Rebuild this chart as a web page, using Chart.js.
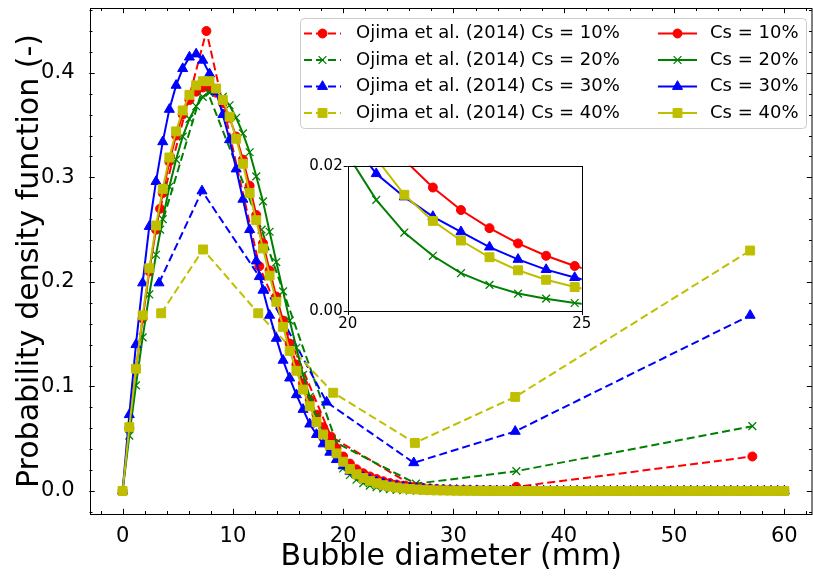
<!DOCTYPE html>
<html>
<head>
<meta charset="utf-8">
<script src="https://cdn.jsdelivr.net/npm/chart.js@4.4.0/dist/chart.umd.min.js"></script>
<style>
  html, body { margin: 0; padding: 0; background: #fff; }
  #wrap { position: relative; width: 813px; height: 579px; }
  #mainChart { position: absolute; left: 0; top: 0; }
  #insetChart { position: absolute; left: 300px; top: 150px; }
</style>
</head>
<body>
<div id="wrap">
  <canvas id="mainChart" width="813" height="579"></canvas>
  <canvas id="insetChart" width="300" height="190"></canvas>
</div>
<script>
// simulation grid (mm)
const simX = [
  0, 0.61, 1.21, 1.82, 2.42, 3.03, 3.64, 4.24, 4.85, 5.45,
  6.06, 6.67, 7.27, 7.88, 8.48, 9.09, 9.70, 10.30, 10.91, 11.52,
  12.12, 12.73, 13.33, 13.94, 14.55, 15.15, 15.76, 16.36, 16.97, 17.58,
  18.18, 18.79, 19.39, 20.00, 20.61, 21.21, 21.82, 22.42, 23.03, 23.64,
  24.24, 24.85, 25.45, 26.06, 26.67, 27.27, 27.88, 28.48, 29.09, 29.70,
  30.30, 30.91, 31.52, 32.12, 32.73, 33.33, 33.94, 34.55, 35.15, 35.76,
  36.36, 36.97, 37.58, 38.18, 38.79, 39.39, 40.00, 40.61, 41.21, 41.82,
  42.42, 43.03, 43.64, 44.24, 44.85, 45.45, 46.06, 46.67, 47.27, 47.88,
  48.48, 49.09, 49.70, 50.30, 50.91, 51.52, 52.12, 52.73, 53.33, 53.94,
  54.55, 55.15, 55.76, 56.36, 56.97, 57.58, 58.18, 58.79, 59.39, 60.00
];

const sim10 = [
  0, 0.060, 0.117, 0.165, 0.210, 0.250, 0.285, 0.315, 0.340, 0.360,
  0.374, 0.382, 0.386, 0.386, 0.381, 0.371, 0.357, 0.339, 0.317, 0.292,
  0.264, 0.237, 0.211, 0.186, 0.163, 0.141, 0.121, 0.103, 0.087, 0.073,
  0.061, 0.050, 0.041, 0.033, 0.0262, 0.0208, 0.0170, 0.0139, 0.0114, 0.0093,
  0.0076, 0.0062, 0.0051, 0.0042, 0.0034, 0.0028, 0.0023, 0.0019, 0.0016, 0.0013,
  0.0011, 0.0009, 0.0007, 0.0006, 0.0005, 0.0004, 0.0003, 0.0003, 0.0002, 0.0002,
  0.0002, 0.0001, 0.0001, 0.0001, 0.0001, 0, 0, 0, 0, 0,
  0, 0, 0, 0, 0, 0, 0, 0, 0, 0,
  0, 0, 0, 0, 0, 0, 0, 0, 0, 0,
  0, 0, 0, 0, 0, 0, 0, 0, 0, 0
];

const sim20 = [
  0, 0.053, 0.101, 0.147, 0.188, 0.226, 0.260, 0.291, 0.317, 0.339,
  0.356, 0.368, 0.377, 0.381, 0.381, 0.377, 0.369, 0.357, 0.342, 0.324,
  0.301, 0.277, 0.248, 0.219, 0.191, 0.163, 0.137, 0.111, 0.090, 0.071,
  0.055, 0.042, 0.031, 0.0215, 0.0153, 0.0108, 0.0076, 0.0052, 0.0036, 0.0024,
  0.0017, 0.0011, 0.0007, 0.0005, 0.0003, 0.0002, 0.0001, 0.0001, 0, 0,
  0, 0, 0, 0, 0, 0, 0, 0, 0, 0,
  0, 0, 0, 0, 0, 0, 0, 0, 0, 0,
  0, 0, 0, 0, 0, 0, 0, 0, 0, 0,
  0, 0, 0, 0, 0, 0, 0, 0, 0, 0,
  0, 0, 0, 0, 0, 0, 0, 0, 0, 0
];

const sim30 = [
  0, 0.073, 0.140, 0.199, 0.253, 0.296, 0.334, 0.365, 0.388, 0.404,
  0.415, 0.418, 0.412, 0.399, 0.382, 0.360, 0.336, 0.308, 0.279, 0.250,
  0.220, 0.192, 0.168, 0.146, 0.125, 0.108, 0.092, 0.078, 0.064, 0.054,
  0.045, 0.037, 0.030, 0.024, 0.0189, 0.0157, 0.0130, 0.0109, 0.0088, 0.0071,
  0.0057, 0.0046, 0.0037, 0.0030, 0.0024, 0.0019, 0.0015, 0.0012, 0.0010, 0.0008,
  0.0006, 0.0005, 0.0004, 0.0003, 0.0002, 0.0002, 0.0001, 0.0001, 0.0001, 0,
  0, 0, 0, 0, 0, 0, 0, 0, 0, 0,
  0, 0, 0, 0, 0, 0, 0, 0, 0, 0,
  0, 0, 0, 0, 0, 0, 0, 0, 0, 0,
  0, 0, 0, 0, 0, 0, 0, 0, 0, 0
];

const sim40 = [
  0, 0.061, 0.117, 0.168, 0.213, 0.254, 0.289, 0.319, 0.344, 0.364,
  0.379, 0.388, 0.392, 0.392, 0.385, 0.374, 0.358, 0.337, 0.313, 0.285,
  0.259, 0.232, 0.206, 0.181, 0.157, 0.134, 0.115, 0.097, 0.081, 0.066,
  0.054, 0.044, 0.036, 0.028, 0.0210, 0.0160, 0.0124, 0.0097, 0.0074, 0.0056,
  0.0043, 0.0033, 0.0025, 0.0019, 0.0015, 0.0011, 0.0008, 0.0006, 0.0005, 0.0004,
  0.0003, 0.0002, 0.0002, 0.0001, 0.0001, 0, 0, 0, 0, 0,
  0, 0, 0, 0, 0, 0, 0, 0, 0, 0,
  0, 0, 0, 0, 0, 0, 0, 0, 0, 0,
  0, 0, 0, 0, 0, 0, 0, 0, 0, 0,
  0, 0, 0, 0, 0, 0, 0, 0, 0, 0
];

// Ojima et al. (2014) measured bins
const ojX10 = [3.4, 7.6, 12.4, 18.9, 26.5, 35.7, 57.1];
const oj10 = [0.270, 0.440, 0.215, 0.052, 0.004, 0.004, 0.033];
const ojX20 = [3.4, 7.4, 12.6, 19.4, 26.6, 35.7, 57.1];
const oj20 = [0.250, 0.390, 0.250, 0.046, 0.007, 0.019, 0.062];
const ojX30 = [3.3, 7.2, 12.4, 18.5, 26.4, 35.6, 56.9];
const oj30 = [0.199, 0.287, 0.205, 0.085, 0.027, 0.057, 0.168];
const ojX40 = [3.5, 7.3, 12.3, 19.1, 26.5, 35.6, 56.9];
const oj40 = [0.170, 0.231, 0.170, 0.094, 0.046, 0.090, 0.230];

const ojLabels = ['Ojima et al. (2014) Cs = 10%', 'Ojima et al. (2014) Cs = 20%',
                  'Ojima et al. (2014) Cs = 30%', 'Ojima et al. (2014) Cs = 40%'];
const simLabels = ['Cs = 10%', 'Cs = 20%', 'Cs = 30%', 'Cs = 40%'];

const xTicks = [0, 10, 20, 30, 40, 50, 60];
const yTicks = [0, 0.1, 0.2, 0.3, 0.4];
const xMinor = [-2, 0, 2, 4, 6, 8, 10, 12, 14, 16, 18, 20, 22, 24, 26, 28, 30, 32,
                34, 36, 38, 40, 42, 44, 46, 48, 50, 52, 54, 56, 58, 60, 62];
const yMinor = [-0.02, 0, 0.02, 0.04, 0.06, 0.08, 0.10, 0.12, 0.14, 0.16, 0.18, 0.20,
                0.22, 0.24, 0.26, 0.28, 0.30, 0.32, 0.34, 0.36, 0.38, 0.40, 0.42, 0.44, 0.46];
const insetXTicks = [20, 25];
const insetYTicks = [0, 0.02];

const FONT = '"DejaVu Sans", sans-serif';
const colors = ['#ff0000', '#008000', '#0000ff', '#bfbf00'];
const markers = ['circle', 'crossRot', 'triangle', 'rect'];
const radii = { circle: 4.5, crossRot: 5.5, triangle: 5.8, rect: 6.3 };
const DASH = [8, 4];
const PLOT_RIGHT = 813;

function makeSet(label, xs, ys, k, dashed) {
  const m = markers[k];
  return {
    label: label,
    data: xs.map((x, i) => ({ x: x, y: ys[i] })),
    borderColor: colors[k],
    backgroundColor: colors[k],
    pointBackgroundColor: colors[k],
    pointBorderColor: colors[k],
    borderWidth: 2,
    borderDash: dashed ? DASH : [],
    pointStyle: m,
    pointRadius: radii[m],
    pointHoverRadius: radii[m],
    pointBorderWidth: m === 'crossRot' ? 1.3 : 1,
    tension: 0,
    fill: false
  };
}

function drawMarker(ctx, style, x, y, r, color, lw) {
  ctx.save();
  ctx.setLineDash([]);
  ctx.fillStyle = color;
  ctx.strokeStyle = color;
  ctx.lineWidth = lw;
  ctx.beginPath();
  if (style === 'circle') {
    ctx.arc(x, y, r, 0, Math.PI * 2);
  } else if (style === 'rect') {
    const h = r * Math.SQRT1_2;
    ctx.rect(x - h, y - h, 2 * h, 2 * h);
  } else if (style === 'triangle') {
    for (let k = 0; k < 3; k++) {
      const a = k * 2 * Math.PI / 3;
      const px = x + Math.sin(a) * r, py = y - Math.cos(a) * r;
      if (k === 0) ctx.moveTo(px, py); else ctx.lineTo(px, py);
    }
    ctx.closePath();
  } else {
    const h = r * Math.SQRT1_2;
    ctx.moveTo(x - h, y - h); ctx.lineTo(x + h, y + h);
    ctx.moveTo(x - h, y + h); ctx.lineTo(x + h, y - h);
    ctx.stroke();
    ctx.restore();
    return;
  }
  ctx.fill();
  ctx.stroke();
  ctx.restore();
}

// stretch the plot area to the right edge of the canvas (as in the cropped figure)
const stretchRight = {
  id: 'stretchRight',
  afterLayout(chart) {
    const x = chart.scales.x;
    chart.chartArea.right = PLOT_RIGHT;
    chart.chartArea.width = PLOT_RIGHT - chart.chartArea.left;
    x.right = PLOT_RIGHT;
    x.width = x.right - x.left;
    x.configure();
  }
};

// inward ticks on all four sides + frame
const frameTicks = {
  id: 'frameTicks',
  afterDatasetsDraw(chart) {
    const { ctx, chartArea: a, scales: { x, y } } = chart;
    ctx.save();
    ctx.strokeStyle = '#000';
    ctx.lineWidth = 1;
    ctx.setLineDash([]);
    ctx.beginPath();
    const vx = (vals, len) => vals.forEach(v => {
      const p = Math.round(x.getPixelForValue(v)) + 0.5;
      ctx.moveTo(p, a.bottom); ctx.lineTo(p, a.bottom - len);
      ctx.moveTo(p, a.top); ctx.lineTo(p, a.top + len);
    });
    const vy = (vals, len) => vals.forEach(v => {
      const p = Math.round(y.getPixelForValue(v)) + 0.5;
      ctx.moveTo(a.left, p); ctx.lineTo(a.left + len, p);
      ctx.moveTo(a.right - 1, p); ctx.lineTo(a.right - 1 - len, p);
    });
    vx(xMinor, 3); vx(xTicks, 5.2);
    vy(yMinor, 3); vy(yTicks, 5.2);
    ctx.stroke();
    ctx.strokeRect(Math.round(a.left) + 0.5, Math.round(a.top) + 0.5,
                   Math.round(a.right) - Math.round(a.left) - 1.5, Math.round(a.bottom - a.top));
    ctx.restore();
  }
};

// two-column legend box in the upper right
const legendBox = {
  id: 'legendBox',
  afterDraw(chart) {
    const ctx = chart.ctx;
    const sets = chart.data.datasets;
    const bx = 300.5, by = 18.5, bw = 506, bh = 110, r = 4;
    ctx.save();
    ctx.beginPath();
    ctx.moveTo(bx + r, by);
    ctx.arcTo(bx + bw, by, bx + bw, by + bh, r);
    ctx.arcTo(bx + bw, by + bh, bx, by + bh, r);
    ctx.arcTo(bx, by + bh, bx, by, r);
    ctx.arcTo(bx, by, bx + bw, by, r);
    ctx.closePath();
    ctx.fillStyle = 'rgba(255,255,255,0.8)';
    ctx.fill();
    ctx.strokeStyle = '#cccccc';
    ctx.lineWidth = 1;
    ctx.stroke();

    const rowY = [33.5, 60, 86.5, 113];
    const cols = [{ x0: 304, x1: 341, tx: 356 }, { x0: 658, x1: 697, tx: 710 }];
    ctx.font = '18px ' + FONT;
    ctx.textBaseline = 'middle';
    ctx.textAlign = 'left';
    sets.forEach((ds, i) => {
      const c = cols[Math.floor(i / 4)];
      const yy = rowY[i % 4];
      ctx.save();
      ctx.strokeStyle = ds.borderColor;
      ctx.lineWidth = ds.borderWidth;
      ctx.setLineDash(ds.borderDash);
      ctx.beginPath();
      ctx.moveTo(c.x0, yy); ctx.lineTo(c.x1, yy);
      ctx.stroke();
      ctx.restore();
      drawMarker(ctx, ds.pointStyle, (c.x0 + c.x1) / 2, yy, ds.pointRadius, ds.borderColor, ds.pointBorderWidth);
      ctx.fillStyle = '#000';
      ctx.fillText(ds.label, c.tx, yy);
    });
    ctx.restore();
  }
};

const mainSets = [
  makeSet(ojLabels[0], ojX10, oj10, 0, true),
  makeSet(ojLabels[1], ojX20, oj20, 1, true),
  makeSet(ojLabels[2], ojX30, oj30, 2, true),
  makeSet(ojLabels[3], ojX40, oj40, 3, true),
  makeSet(simLabels[0], simX, sim10, 0, false),
  makeSet(simLabels[1], simX, sim20, 1, false),
  makeSet(simLabels[2], simX, sim30, 2, false),
  makeSet(simLabels[3], simX, sim40, 3, false)
];
// matplotlib draws later series on top
mainSets.forEach((ds, i) => { ds.order = mainSets.length - i; });

new Chart(document.getElementById('mainChart').getContext('2d'), {
  type: 'line',
  data: { datasets: mainSets },
  options: {
    responsive: false,
    animation: false,
    devicePixelRatio: 1,
    events: [],
    layout: { padding: { top: 8, right: 0, bottom: 0, left: 0 } },
    plugins: { legend: { display: false }, tooltip: { enabled: false } },
    scales: {
      x: {
        type: 'linear',
        min: -3,
        max: 62.6,
        grid: { display: false },
        border: { display: false },
        afterBuildTicks: s => { s.ticks = xTicks.map(v => ({ value: v })); },
        afterFit: s => { s.height = 65; s.paddingLeft = 0; s.paddingRight = 0; },
        ticks: {
          font: { family: FONT, size: 21 },
          color: '#000',
          padding: 2,
          maxRotation: 0,
          autoSkip: false,
          callback: v => String(v)
        },
        title: {
          display: true,
          text: 'Bubble diameter (mm)',
          color: '#000',
          font: { family: FONT, size: 30 },
          padding: { top: 0, bottom: 4 }
        }
      },
      y: {
        type: 'linear',
        min: -0.022,
        max: 0.462,
        grid: { display: false },
        border: { display: false },
        afterBuildTicks: s => { s.ticks = yTicks.map(v => ({ value: v })); },
        afterFit: s => { s.width = 89.5; s.paddingTop = 0; s.paddingBottom = 0; },
        ticks: {
          font: { family: FONT, size: 21 },
          color: '#000',
          padding: 7,
          autoSkip: false,
          callback: v => v.toFixed(1)
        },
        title: {
          display: true,
          text: 'Probability density function (-)',
          color: '#000',
          font: { family: FONT, size: 30 },
          padding: { top: 12, bottom: 0 }
        }
      }
    }
  },
  plugins: [stretchRight, frameTicks, legendBox]
});

// inset: zoom on the simulated tails
const insetFrame = {
  id: 'insetFrame',
  beforeDatasetsDraw(chart) {
    const { ctx, chartArea: a } = chart;
    ctx.save();
    ctx.fillStyle = '#fff';
    ctx.fillRect(a.left, a.top, a.right - a.left, a.bottom - a.top);
    ctx.restore();
  },
  afterDraw(chart) {
    const { ctx, chartArea: a, scales: { x, y } } = chart;
    ctx.save();
    ctx.strokeStyle = '#000';
    ctx.lineWidth = 1;
    ctx.setLineDash([]);
    ctx.strokeRect(Math.round(a.left) + 0.5, Math.round(a.top) + 0.5,
                   Math.round(a.right - a.left), Math.round(a.bottom - a.top));
    ctx.font = '15px ' + FONT;
    ctx.fillStyle = '#000';
    ctx.beginPath();
    insetXTicks.forEach(v => {
      const p = Math.round(x.getPixelForValue(v)) + 0.5;
      ctx.moveTo(p, a.bottom); ctx.lineTo(p, a.bottom + 4);
    });
    insetYTicks.forEach(v => {
      const p = Math.round(y.getPixelForValue(v)) + 0.5;
      ctx.moveTo(a.left, p); ctx.lineTo(a.left - 4, p);
    });
    ctx.stroke();
    ctx.textAlign = 'center';
    ctx.textBaseline = 'top';
    insetXTicks.forEach(v => ctx.fillText(String(v), x.getPixelForValue(v), a.bottom + 6));
    ctx.textAlign = 'right';
    ctx.textBaseline = 'middle';
    insetYTicks.forEach(v => ctx.fillText(v.toFixed(2), a.left - 5, y.getPixelForValue(v)));
    ctx.restore();
  }
};

const insetSets = [
  makeSet(simLabels[0], simX, sim10, 0, false),
  makeSet(simLabels[1], simX, sim20, 1, false),
  makeSet(simLabels[2], simX, sim30, 2, false),
  makeSet(simLabels[3], simX, sim40, 3, false)
];
insetSets.forEach((ds, i) => { ds.order = insetSets.length - i; });

new Chart(document.getElementById('insetChart').getContext('2d'), {
  type: 'line',
  data: { datasets: insetSets },
  options: {
    responsive: false,
    animation: false,
    devicePixelRatio: 1,
    events: [],
    layout: { padding: { top: 15.7, right: 18.3, bottom: 29, left: 47.7 } },
    plugins: { legend: { display: false }, tooltip: { enabled: false } },
    scales: {
      x: { type: 'linear', min: 20, max: 25, display: false },
      y: { type: 'linear', min: 0, max: 0.02, display: false }
    }
  },
  plugins: [insetFrame]
});
</script>
</body>
</html>
